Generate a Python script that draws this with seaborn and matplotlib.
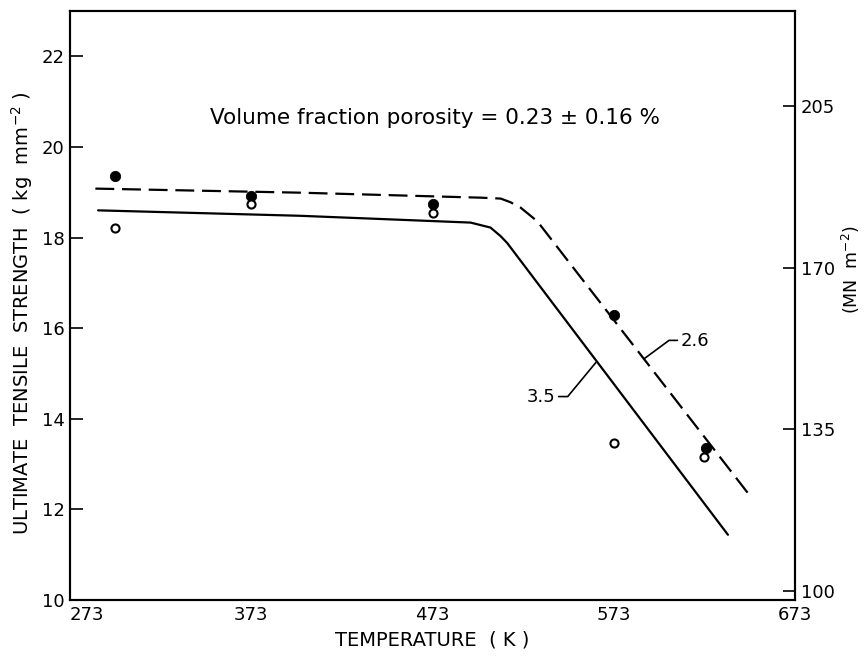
import matplotlib
matplotlib.use("Agg")
import matplotlib.pyplot as plt
import seaborn as sns
import pandas as pd
import numpy as np

# ---- data ----
filled_T = [298, 373, 473, 573, 624]
filled_S = [19.35, 18.91, 18.75, 16.30, 13.36]
open_T = [298, 373, 473, 573, 623]
open_S = [18.22, 18.73, 18.55, 13.47, 13.16]

dash_T = [287, 400, 499.5, 510.6, 516, 521.6, 530.8, 647]
dash_S = [19.08, 18.99, 18.88, 18.86, 18.78, 18.66, 18.36, 12.36]
solid_T = [288.5, 400, 494, 505, 510.6, 514.2, 636]
solid_S = [18.60, 18.48, 18.33, 18.22, 18.03, 17.88, 11.44]

lead26_T = [589.6, 603.5, 608.1]
lead26_S = [15.32, 15.73, 15.73]
lead35_T = [542.6, 547.6, 563.1]
lead35_S = [14.49, 14.49, 15.24]

x_ticks = [273, 373, 473, 573, 673]
y_ticks = [10, 12, 14, 16, 18, 20, 22]
r_ticks = [100, 135, 170, 205]
KG_TO_MN = 9.807

sns.set_theme(style="white")
plt.rcParams['font.family'] = ['DejaVu Sans']
plt.rcParams['text.color'] = 'black'
plt.rcParams['axes.labelcolor'] = 'black'
plt.rcParams['xtick.color'] = 'black'
plt.rcParams['ytick.color'] = 'black'

fig = plt.figure(figsize=(8.64, 6.57), dpi=100)
ax = fig.add_axes([70/864, 1-600/657, 725/864, 589/657])

df_line_d = pd.DataFrame({"T": dash_T, "S": dash_S})
df_line_s = pd.DataFrame({"T": solid_T, "S": solid_S})
sns.lineplot(data=df_line_d, x="T", y="S", ax=ax, color="black", lw=1.6,
             sort=False, estimator=None, linestyle=(0, (8.5, 3.5)))
sns.lineplot(data=df_line_s, x="T", y="S", ax=ax, color="black", lw=1.6,
             sort=False, estimator=None)

df_f = pd.DataFrame({"T": filled_T, "S": filled_S})
df_o = pd.DataFrame({"T": open_T, "S": open_S})
sns.scatterplot(data=df_f, x="T", y="S", ax=ax, color="black", s=55,
                edgecolor="black", zorder=5)
sns.scatterplot(data=df_o, x="T", y="S", ax=ax, facecolor="white", s=34,
                edgecolor="black", linewidth=1.5, zorder=5)

ax.plot(lead26_T, lead26_S, color="black", lw=1.2)
ax.plot(lead35_T, lead35_S, color="black", lw=1.2)
ax.text(610, 15.72, "2.6", fontsize=13, ha="left", va="center")
ax.text(541, 14.48, "3.5", fontsize=13, ha="right", va="center")

ax.text(474.5, 20.64, "Volume fraction porosity = 0.23 \u00b1 0.16 %",
        fontsize=15.5, ha="center", va="center")

ax.set_xlim(273, 673)
ax.set_ylim(10, 23)
ax.set_xticks(x_ticks)
ax.set_yticks(y_ticks)
ax.tick_params(direction="in", length=9, width=1.2, labelsize=13,
               colors="black", pad=4)
xl = ax.get_xticklabels()
xl[0].set_horizontalalignment("left")
ax.set_xlabel("TEMPERATURE  ( K )", fontsize=14)
ax.xaxis.set_label_coords(0.5, -0.068)
ax.xaxis.label.set_va("center")
ax.set_ylabel("ULTIMATE  TENSILE  STRENGTH  ( kg  mm$^{-2}$ )", fontsize=14)
ax.yaxis.set_label_coords(-(70 - 22) / 725, (600 - 313) / 589)
ax.yaxis.label.set_va("center")
for sp in ax.spines.values():
    sp.set_color("black")
    sp.set_linewidth(1.5)

ax2 = ax.twinx()
ax2.set_ylim(10*KG_TO_MN, 23*KG_TO_MN)
ax2.set_yticks(r_ticks)
ax2.tick_params(direction="in", length=9, width=1.2, labelsize=13,
                colors="black", pad=4)
ax2.set_ylabel("(MN  m$^{-2}$)", fontsize=12.5, rotation=90)
ax2.yaxis.set_label_coords((851 - 70) / 725, (600 - 270) / 589)
ax2.yaxis.label.set_va("center")
for sp in ax2.spines.values():
    sp.set_color("black")
    sp.set_linewidth(1.5)

fig.savefig("out.png", dpi=100)
